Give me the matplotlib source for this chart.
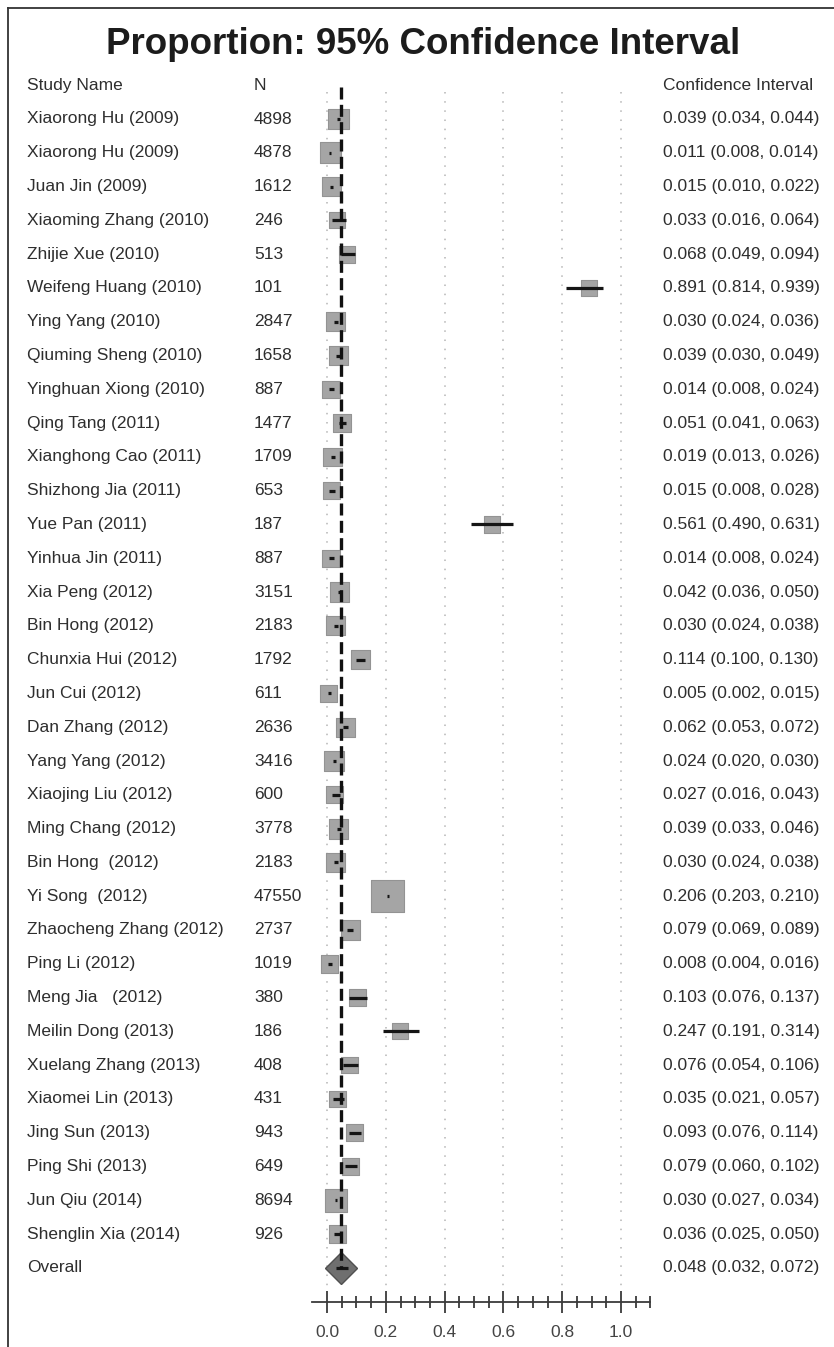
import matplotlib
matplotlib.use('Agg')
import matplotlib.pyplot as plt
from matplotlib import transforms
from matplotlib.lines import Line2D
import numpy as np

# study level proportions with 95% CI
study = [
    'Xiaorong Hu (2009)', 'Xiaorong Hu (2009)', 'Juan Jin (2009)', 'Xiaoming Zhang (2010)',
    'Zhijie Xue (2010)', 'Weifeng Huang (2010)', 'Ying Yang (2010)', 'Qiuming Sheng (2010)',
    'Yinghuan Xiong (2010)', 'Qing Tang (2011)', 'Xianghong Cao (2011)', 'Shizhong Jia (2011)',
    'Yue Pan (2011)', 'Yinhua Jin (2011)', 'Xia Peng (2012)', 'Bin Hong (2012)',
    'Chunxia Hui (2012)', 'Jun Cui (2012)', 'Dan Zhang (2012)', 'Yang Yang (2012)',
    'Xiaojing Liu (2012)', 'Ming Chang (2012)', 'Bin Hong  (2012)', 'Yi Song  (2012)',
    'Zhaocheng Zhang (2012)', 'Ping Li (2012)', 'Meng Jia   (2012)', 'Meilin Dong (2013)',
    'Xuelang Zhang (2013)', 'Xiaomei Lin (2013)', 'Jing Sun (2013)', 'Ping Shi (2013)',
    'Jun Qiu (2014)', 'Shenglin Xia (2014)',
]
n = [4898, 4878, 1612, 246, 513, 101, 2847, 1658, 887, 1477, 1709, 653, 187, 887, 3151, 2183,
     1792, 611, 2636, 3416, 600, 3778, 2183, 47550, 2737, 1019, 380, 186, 408, 431, 943, 649,
     8694, 926]
prop = [0.039, 0.011, 0.015, 0.033, 0.068, 0.891, 0.030, 0.039, 0.014, 0.051, 0.019, 0.015,
        0.561, 0.014, 0.042, 0.030, 0.114, 0.005, 0.062, 0.024, 0.027, 0.039, 0.030, 0.206,
        0.079, 0.008, 0.103, 0.247, 0.076, 0.035, 0.093, 0.079, 0.030, 0.036]
lower = [0.034, 0.008, 0.010, 0.016, 0.049, 0.814, 0.024, 0.030, 0.008, 0.041, 0.013, 0.008,
         0.490, 0.008, 0.036, 0.024, 0.100, 0.002, 0.053, 0.020, 0.016, 0.033, 0.024, 0.203,
         0.069, 0.004, 0.076, 0.191, 0.054, 0.021, 0.076, 0.060, 0.027, 0.025]
upper = [0.044, 0.014, 0.022, 0.064, 0.094, 0.939, 0.036, 0.049, 0.024, 0.063, 0.026, 0.028,
         0.631, 0.024, 0.050, 0.038, 0.130, 0.015, 0.072, 0.030, 0.043, 0.046, 0.038, 0.210,
         0.089, 0.016, 0.137, 0.314, 0.106, 0.057, 0.114, 0.102, 0.034, 0.050]
overall = (0.048, 0.032, 0.072)

FONT = 'Liberation Sans'
TXT = '#2e2e2e'

W, H = 834, 1347
ROW0, STEP = 119, 33.79   # pixel y of first row and row pitch
X0, SCALE = 327, 294      # pixel x of proportion 0 and pixels per unit

fig = plt.figure(figsize=(W / 100, H / 100), dpi=100)
fig.patch.set_facecolor('white')
ax = fig.add_axes([0, 0, 1, 1])
ax.patch.set_visible(False)
ax.set_xlim(-X0 / SCALE, (W - X0) / SCALE)
ax.set_ylim((H - ROW0) / STEP, -ROW0 / STEP)

rows = np.arange(len(study))
k_over = len(study)

# dotted reference grid
ax.vlines(np.arange(0, 1.01, 0.2), -0.8, k_over + 0.7, colors='#b5b5b5',
          linestyles=(0, (1, 5)), lw=1.1, zorder=1)

# study boxes, sized by sample size
side_pt = (15 + 0.08 * np.sqrt(np.array(n))) * 0.72
ax.scatter(prop, rows, s=side_pt ** 2, marker='s', c='#a5a5a5', edgecolors='#939393',
           linewidths=0.8, zorder=2)
ax.hlines(rows, lower, upper, colors='#151515', lw=2.3, zorder=3)

# pooled estimate
ax.plot([overall[0]], [k_over], marker='D', ms=16, mfc='#6f6f6f', mec='#505050', mew=1,
        zorder=2)
ax.hlines(k_over, overall[1], overall[2], colors='#151515', lw=2.3, zorder=4)
ax.plot([overall[0], overall[0]], [-0.95, k_over], color='#111111', lw=2.4,
        dashes=(3.6, 1.6), zorder=5)

# x axis drawn as a bottom spine sitting under the rows
for side in ('left', 'right', 'top'):
    ax.spines[side].set_visible(False)
ax.spines['bottom'].set_position(('data', k_over + 1))
ax.spines['bottom'].set_bounds(-0.05, 1.1)
ax.spines['bottom'].set_color('#3a3a3a')
ax.spines['bottom'].set_linewidth(1.3)
major = np.arange(0, 1.01, 0.2)
ax.set_xticks(major)
ax.set_xticks([t for t in np.arange(0.05, 1.11, 0.05) if abs(t / 0.2 - round(t / 0.2)) > 1e-6],
              minor=True)
ax.set_xticklabels(['%.1f' % t for t in major])
ax.tick_params(axis='x', which='major', direction='inout', length=16, width=1.3,
               colors='#3a3a3a', labelcolor='#444444', pad=9, labelsize=12.5)
ax.tick_params(axis='x', which='minor', direction='inout', length=8, width=1.3,
               colors='#3a3a3a')
for lab in ax.get_xticklabels():
    lab.set_family(FONT)
ax.set_yticks([])

# text columns
tr = transforms.blended_transform_factory(fig.transFigure, ax.transData)
col_name, col_n, col_ci = 27 / W, 254 / W, 663 / W
kw = dict(transform=tr, va='center', ha='left', fontsize=12.5, color=TXT, family=FONT)
ax.text(col_name, -1, 'Study Name', **kw)
ax.text(col_n, -1, 'N', **kw)
ax.text(col_ci, -1, 'Confidence Interval', **kw)
for i in rows:
    ax.text(col_name, i, study[i], **kw)
    ax.text(col_n, i, str(n[i]), **kw)
    ax.text(col_ci, i, '%.3f (%.3f, %.3f)' % (prop[i], lower[i], upper[i]), **kw)
ax.text(col_name, k_over, 'Overall', **kw)
ax.text(col_ci, k_over, '%.3f (%.3f, %.3f)' % overall, **kw)

fig.text(423 / W, 1 - 44 / H, 'Proportion: 95% Confidence Interval', ha='center',
         va='center', fontsize=26.5, fontweight='bold', color='#1c1c1c', family=FONT)

# frame on the top and left edges
fig.add_artist(Line2D([8 / W, 8 / W], [0, 1 - 8 / H], transform=fig.transFigure,
                      color='#333333', lw=1.3))
fig.add_artist(Line2D([8 / W, 1], [1 - 8 / H, 1 - 8 / H], transform=fig.transFigure,
                      color='#333333', lw=1.3))

fig.savefig('out.png', dpi=100)
